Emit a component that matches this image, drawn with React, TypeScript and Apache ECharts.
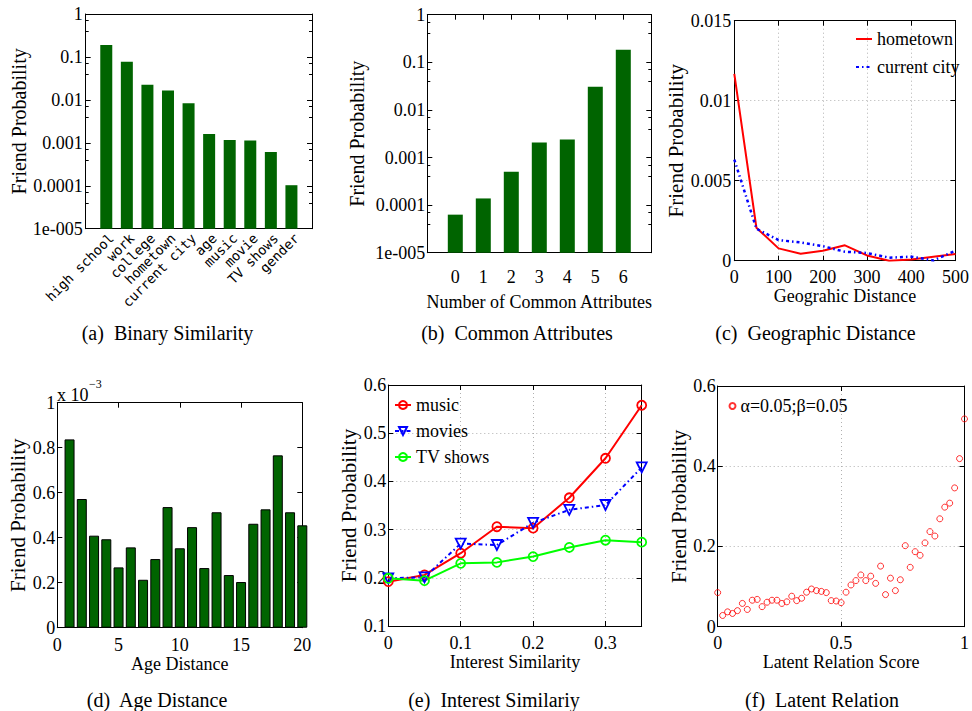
import React, { useEffect, useRef } from 'react';
import * as echarts from 'echarts';

// ---------- data ----------
const logTickLabels = ['1e-005', '0.0001', '0.001', '0.01', '0.1', '1'];

const binaryAttrs = ['high school', 'work', 'college', 'hometown', 'current city', 'age', 'music', 'movie', 'TV shows', 'gender'];
const binaryProb = [0.19, 0.077, 0.0224, 0.0165, 0.0084, 0.0016, 0.00117, 0.00113, 0.00061, 0.000103];

const commonAttrCounts = [0, 1, 2, 3, 4, 5, 6];
const commonAttrProb = [0.000063, 0.000138, 0.0005, 0.00206, 0.0024, 0.0308, 0.184];

const geoDistance = [0, 50, 100, 150, 200, 250, 300, 350, 400, 450, 500];
const hometownProb = [0.01168, 0.00206, 0.00077, 0.00044, 0.00062, 0.00096, 0.00033, 0.0, 0.00008, 0.00025, 0.00042];
const currentCityProb = [0.00632, 0.002, 0.00129, 0.00114, 0.00091, 0.00056, 0.00048, 0.00019, 0.00025, 0.00002, 0.00062];

const ageDistance = [1, 2, 3, 4, 5, 6, 7, 8, 9, 10, 11, 12, 13, 14, 15, 16, 17, 18, 19, 20];
// friend probability in units of 1e-3
const ageProbE3 = [0.837, 0.572, 0.409, 0.393, 0.268, 0.357, 0.213, 0.305, 0.536, 0.353, 0.447, 0.265, 0.513, 0.234, 0.203, 0.462, 0.526, 0.766, 0.513, 0.455];

const interestSim = [0, 0.05, 0.1, 0.15, 0.2, 0.25, 0.3, 0.35];
const musicProb = [0.192, 0.206, 0.251, 0.306, 0.303, 0.366, 0.448, 0.558];
const moviesProb = [0.199, 0.201, 0.271, 0.268, 0.314, 0.341, 0.351, 0.429];
const tvProb = [0.199, 0.194, 0.23, 0.232, 0.244, 0.263, 0.278, 0.274];

const latentScore = [0, 0.02, 0.04, 0.06, 0.08, 0.1, 0.12, 0.14, 0.16, 0.18, 0.2, 0.22, 0.24, 0.26, 0.28, 0.3, 0.32, 0.34, 0.36, 0.38, 0.4, 0.42, 0.44, 0.46, 0.48, 0.5, 0.52, 0.54, 0.56, 0.58, 0.6, 0.62, 0.64, 0.66, 0.68, 0.7, 0.72, 0.74, 0.76, 0.78, 0.8, 0.82, 0.84, 0.86, 0.88, 0.9, 0.92, 0.94, 0.96, 0.98, 1.0];
const latentProb = [0.085, 0.028, 0.037, 0.033, 0.04, 0.058, 0.043, 0.066, 0.068, 0.05, 0.061, 0.066, 0.066, 0.058, 0.062, 0.076, 0.065, 0.071, 0.086, 0.094, 0.09, 0.088, 0.085, 0.065, 0.064, 0.06, 0.086, 0.104, 0.115, 0.129, 0.115, 0.126, 0.108, 0.151, 0.08, 0.121, 0.09, 0.117, 0.202, 0.148, 0.187, 0.178, 0.209, 0.237, 0.226, 0.269, 0.298, 0.308, 0.346, 0.419, 0.518];

const captions = ['(a)  Binary Similarity', '(b)  Common Attributes', '(c)  Geographic Distance', '(d)  Age Distance', '(e)  Interest Similariy', '(f)  Latent Relation'];

// ---------- styling ----------
const FONT = '"Liberation Serif", "Times New Roman", serif';
const GREEN = '#006400';
const axisLine = { show: true, onZero: false, lineStyle: { color: '#000', width: 1 } };
const tick = { show: true, inside: true, length: 5, lineStyle: { color: '#000', width: 1 } };
const noTick = { show: false };
const dotted = { show: true, lineStyle: { color: '#b0b0b0', type: [1, 3], width: 1 } };
const lbl = (extra: any = {}) => ({ color: '#000', fontFamily: FONT, fontSize: 18, ...extra });
const nameStyle = (size: number) => ({ color: '#000', fontFamily: FONT, fontSize: size });

const grids = [
  { left: 85.7, top: 14, width: 226.3, height: 214.7 },
  { left: 427.3, top: 14.7, width: 224, height: 238 },
  { left: 734.3, top: 20.7, width: 223, height: 240 },
  { left: 57.3, top: 402.7, width: 245, height: 225 },
  { left: 388.3, top: 385, width: 253.4, height: 241 },
  { left: 717.7, top: 386, width: 247.3, height: 240.7 },
];

function pair(dim: 'x' | 'y', gridIndex: number, scale: any, main: any, mirrorTick: any = tick, mirrorMinor: any = undefined) {
  const a: any = {
    gridIndex,
    position: dim === 'x' ? 'bottom' : 'left',
    ...scale,
    axisLine,
    axisTick: tick,
    splitLine: { show: false },
    ...main,
  };
  const b: any = {
    gridIndex,
    position: dim === 'x' ? 'top' : 'right',
    ...scale,
    axisLine,
    axisTick: mirrorTick,
    axisLabel: { show: false },
    splitLine: { show: false },
  };
  if (mirrorMinor) b.minorTick = mirrorMinor;
  return [a, b];
}

const logScale = { type: 'log', logBase: 10, min: 0.00001, max: 1, startValue: 0.00001 };
const logFormatter = (v: number) => logTickLabels[Math.round(Math.log10(v)) + 5] ?? '';
const minorLog = { show: true, splitNumber: 3, length: 3, lineStyle: { color: '#000' } };

function buildOption() {
  const xAxis = [
    ...pair('x', 0, { type: 'value', min: 0, max: 11, interval: 1 }, {
      axisTick: noTick,
      axisLabel: lbl({
        fontFamily: '"DejaVu Sans Mono", monospace', fontSize: 13.5, rotate: 45, margin: 2,
        verticalAlign: 'top',
        formatter: (v: number) => binaryAttrs[v - 1] ?? '',
      }),
    }, noTick),
    ...pair('x', 1, { type: 'value', min: -1, max: 7, interval: 1 }, {
      axisLabel: lbl({ margin: 15, formatter: (v: number) => (commonAttrCounts.includes(v) ? String(v) : '') }),
      name: 'Number of Common Attributes', nameLocation: 'middle', nameGap: 40, nameTextStyle: nameStyle(18),
    }),
    ...pair('x', 2, { type: 'value', min: 0, max: 500, interval: 100 }, {
      axisLabel: lbl({ margin: 7 }),
      splitLine: dotted,
      name: 'Geograhic Distance', nameLocation: 'middle', nameGap: 26, nameTextStyle: nameStyle(18),
    }),
    ...pair('x', 3, { type: 'value', min: 0, max: 20, interval: 5 }, {
      axisLabel: lbl({ margin: 8 }),
      name: 'Age Distance', nameLocation: 'middle', nameGap: 25, nameTextStyle: nameStyle(18),
    }),
    ...pair('x', 4, { type: 'value', min: 0, max: 0.35, interval: 0.1 }, {
      axisLabel: lbl({ margin: 8, showMaxLabel: false }),
      splitLine: dotted,
      name: 'Interest Similarity', nameLocation: 'middle', nameGap: 27, nameTextStyle: nameStyle(18),
    }),
    ...pair('x', 5, { type: 'value', min: 0, max: 1, interval: 0.5 }, {
      axisLabel: lbl({ margin: 7 }),
      splitLine: dotted,
      name: 'Latent Relation Score', nameLocation: 'middle', nameGap: 26, nameTextStyle: nameStyle(18),
    }),
  ];

  const yAxis = [
    ...pair('y', 0, logScale, {
      axisLabel: lbl({ margin: 3, formatter: logFormatter }),
      minorTick: minorLog,
      name: 'Friend Probability', nameLocation: 'middle', nameGap: 57, nameTextStyle: nameStyle(20),
    }, tick, minorLog),
    ...pair('y', 1, logScale, {
      axisLabel: lbl({ margin: 2, formatter: logFormatter }),
      minorTick: minorLog,
      name: 'Friend Probability', nameLocation: 'middle', nameGap: 60, nameTextStyle: nameStyle(20),
    }, tick, minorLog),
    ...pair('y', 2, { type: 'value', min: 0, max: 0.015, interval: 0.005 }, {
      axisLabel: lbl({ margin: 3 }),
      splitLine: dotted,
      name: 'Friend Probability', nameLocation: 'middle', nameGap: 41, nameTextStyle: nameStyle(21),
    }),
    ...pair('y', 3, { type: 'value', min: 0, max: 1, interval: 0.2 }, {
      axisLabel: lbl({ margin: 2 }),
      name: 'Friend Probability', nameLocation: 'middle', nameGap: 26, nameTextStyle: nameStyle(21),
    }),
    ...pair('y', 4, { type: 'value', min: 0.1, max: 0.6, interval: 0.1 }, {
      axisLabel: lbl({ margin: 2 }),
      splitLine: dotted,
      name: 'Friend Probability', nameLocation: 'middle', nameGap: 27, nameTextStyle: nameStyle(21),
    }),
    ...pair('y', 5, { type: 'value', min: 0, max: 0.6, interval: 0.2 }, {
      axisLabel: lbl({ margin: 2 }),
      splitLine: dotted,
      name: 'Friend Probability', nameLocation: 'middle', nameGap: 24, nameTextStyle: nameStyle(21),
    }),
  ];

  const hollow = (c: string) => ({ color: 'rgba(255,255,255,0)', borderColor: c, borderWidth: 1.8 });

  const series: any[] = [
    {
      type: 'bar', xAxisIndex: 0, yAxisIndex: 0, barWidth: 12,
      data: binaryAttrs.map((_, i) => [i + 1, binaryProb[i]]),
      itemStyle: { color: GREEN },
    },
    {
      type: 'bar', xAxisIndex: 2, yAxisIndex: 2, barWidth: 15,
      data: commonAttrCounts.map((c, i) => [c, commonAttrProb[i]]),
      itemStyle: { color: GREEN },
    },
    {
      type: 'line', name: 'hometown', xAxisIndex: 4, yAxisIndex: 4, symbol: 'none',
      data: geoDistance.map((d, i) => [d, hometownProb[i]]),
      lineStyle: { color: '#ff0000', width: 2 }, itemStyle: { color: '#ff0000' },
    },
    {
      type: 'line', name: 'current city', xAxisIndex: 4, yAxisIndex: 4, symbol: 'none',
      data: geoDistance.map((d, i) => [d, currentCityProb[i]]),
      lineStyle: { color: '#0000ff', width: 2.5, type: [3, 3, 1.5, 3] }, itemStyle: { color: '#0000ff' },
    },
    {
      type: 'bar', xAxisIndex: 6, yAxisIndex: 6, barWidth: 10, clip: true,
      data: ageDistance.map((a, i) => [a, ageProbE3[i]]),
      itemStyle: { color: GREEN, borderColor: '#000', borderWidth: 1 },
    },
    {
      type: 'line', name: 'music', xAxisIndex: 8, yAxisIndex: 8,
      symbol: 'circle', symbolSize: 9,
      data: interestSim.map((s, i) => [s, musicProb[i]]),
      lineStyle: { color: '#ff0000', width: 2 }, itemStyle: hollow('#ff0000'),
    },
    {
      type: 'line', name: 'movies', xAxisIndex: 8, yAxisIndex: 8,
      symbol: 'triangle', symbolRotate: 180, symbolSize: 10,
      data: interestSim.map((s, i) => [s, moviesProb[i]]),
      lineStyle: { color: '#0000ff', width: 2, type: [4, 3, 1.5, 3] }, itemStyle: hollow('#0000ff'),
    },
    {
      type: 'line', name: 'TV shows', xAxisIndex: 8, yAxisIndex: 8,
      symbol: 'circle', symbolSize: 9,
      data: interestSim.map((s, i) => [s, tvProb[i]]),
      lineStyle: { color: '#00ff00', width: 2 }, itemStyle: hollow('#00ff00'),
    },
    {
      type: 'scatter', name: 'α=0.05;β=0.05', xAxisIndex: 10, yAxisIndex: 10,
      symbol: 'circle', symbolSize: 6,
      data: latentScore.map((s, i) => [s, latentProb[i]]),
      itemStyle: { color: 'rgba(255,255,255,0)', borderColor: '#ff0000', borderWidth: 1 },
    },
  ];

  const legendText = { color: '#000', fontFamily: FONT, fontSize: 18 };
  const legend = [
    {
      data: ['hometown', 'current city'], orient: 'vertical', left: 855, top: 30, padding: 0,
      itemWidth: 16, itemHeight: 10, itemGap: 10, textStyle: legendText, selectedMode: false,
      itemStyle: { opacity: 0 },
    },
    { data: ['music', 'movies', 'TV shows'], orient: 'vertical', left: 394, top: 396, padding: 0, itemWidth: 16, itemHeight: 10, itemGap: 8, textStyle: legendText, selectedMode: false },
    { data: ['α=0.05;β=0.05'], orient: 'vertical', left: 728.5, top: 397, padding: 0, itemWidth: 6, itemHeight: 6, textStyle: legendText, selectedMode: false },
  ];

  const capPos = [
    [167.5, 333], [517, 333], [815.5, 333],
    [157, 700], [494, 700], [822, 700],
  ];
  const graphic: any[] = captions.map((t, i) => ({
    type: 'text', x: capPos[i][0], y: capPos[i][1],
    style: { text: t, fill: '#000', font: `20px ${FONT}`, textAlign: 'center', textVerticalAlign: 'middle' },
  }));
  graphic.push({ type: 'text', x: 57, y: 395, style: { text: 'x 10', fill: '#000', font: `18px ${FONT}`, textAlign: 'left', textVerticalAlign: 'middle' } });
  graphic.push({ type: 'text', x: 89, y: 384, style: { text: '−3', fill: '#000', font: `12px ${FONT}`, textAlign: 'left', textVerticalAlign: 'middle' } });

  return {
    animation: false,
    backgroundColor: '#ffffff',
    grid: grids.map((g) => ({ ...g, containLabel: false })),
    xAxis, yAxis, series, legend, graphic,
  };
}

export default function App() {
  const ref = useRef<HTMLDivElement>(null);
  useEffect(() => {
    if (!ref.current) return;
    const chart = echarts.init(ref.current, null, { renderer: 'svg' });
    chart.setOption(buildOption() as any);
    return () => chart.dispose();
  }, []);
  return <div ref={ref} style={{ position: 'absolute', left: 0, top: 0, width: 972, height: 711, background: '#fff' }} />;
}
